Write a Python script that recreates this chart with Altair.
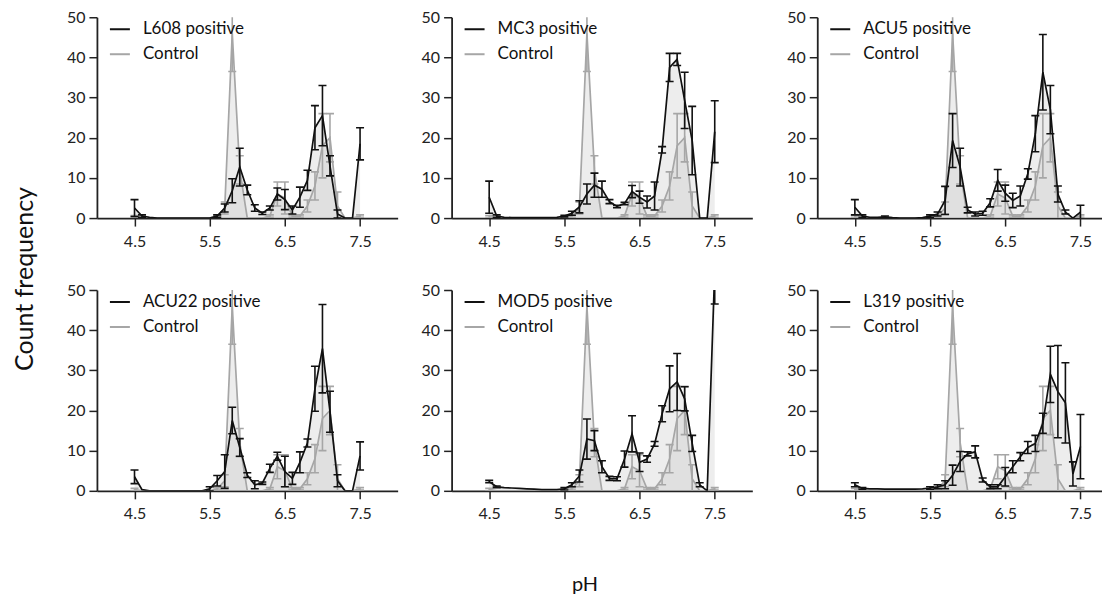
import altair as alt
import pandas as pd

# ---------------- data ----------------
ph = [4.5, 4.6, 4.7, 4.8, 4.9, 5.0, 5.1, 5.2, 5.3, 5.4, 5.5, 5.6, 5.7, 5.8, 5.9, 6.0,
      6.1, 6.2, 6.3, 6.4, 6.5, 6.6, 6.7, 6.8, 6.9, 7.0, 7.1, 7.2, 7.3, 7.4, 7.5]

control_mean = [0.3, 0, 0, 0, 0, 0, 0, 0, 0, 0, 0, 0.5, 2.5, 46, 12, 0, 0, 0, 0.5, 6,
                5, 0.5, 0.5, 3, 8, 18, 20, 3, 0, 0, 0.5]
control_err = [0.3, 0, 0, 0, 0, 0, 0, 0, 0, 0, 0, 0.3, 1.5, 9.5, 3.5, 0, 0, 0, 0.3, 3,
               4, 0.3, 0.3, 1.5, 3.5, 8, 6, 3.5, 0, 0, 0.3]

panel_names = ["L608 positive", "MC3 positive", "ACU5 positive",
               "ACU22 positive", "MOD5 positive", "L319 positive"]

l608_mean = [2.5, 0.5, 0.2, 0, 0, 0, 0, 0, 0, 0, 0, 0.5, 2.5, 6.8, 12.7, 7, 2.5, 1.2, 2.5, 6,
             4.6, 2, 5.2, 9.4, 22.5, 25.5, 13, 1, 0, 0, 18.5]
l608_err = [2.1, 0.3, 0, 0, 0, 0, 0, 0, 0, 0, 0, 0.3, 1, 3, 4.7, 1.2, 0.8, 0.3, 0.5, 1.5,
            2.5, 1, 2.5, 2.5, 5.5, 7.5, 2.5, 1, 0, 0, 4]

mc3_mean = [5.2, 0.5, 0.2, 0.1, 0.1, 0.1, 0.1, 0.1, 0.1, 0.2, 0.5, 1.2, 2.8, 6, 8.2, 7.2,
            4.1, 2.9, 3.6, 6.6, 5.2, 4, 5.5, 17, 37.5, 39.5, 29.3, 19.3, 0, 0, 21.5]
mc3_err = [4, 0.3, 0, 0, 0, 0, 0, 0, 0, 0, 0.2, 0.5, 1.5, 2.5, 3, 2, 0.5, 0.3, 0.3, 1.5,
           1.5, 1.5, 3.5, 0.8, 3.5, 1.5, 7, 8.5, 0, 0, 7.7]

acu5_mean = [2.7, 0.5, 0.2, 0.2, 0.3, 0.1, 0, 0, 0, 0.1, 0.5, 1, 4.4, 19.3, 12.7, 2, 1, 1.2,
             3.8, 9.4, 6.2, 4.4, 5.5, 11, 21, 36.3, 27, 6, 1.5, 0, 1.5]
acu5_err = [1.9, 0.3, 0, 0, 0.2, 0, 0, 0, 0, 0, 0.3, 0.5, 3.5, 6.7, 4.7, 0.7, 0.5, 0.5, 1,
            2.7, 2, 1.8, 2.5, 1.3, 4.5, 9.4, 6, 2, 0.5, 0, 1.7]

acu22_mean = [3.5, 0.3, 0, 0, 0, 0, 0, 0, 0, 0, 0.5, 2.5, 4.8, 17.5, 10.8, 3.9, 1.5, 1.9,
              5.6, 8.6, 4.8, 3.1, 7.1, 11.9, 25.4, 35.4, 19.7, 2.5, 0, 0, 8.7]
acu22_err = [1.7, 0, 0, 0, 0, 0, 0, 0, 0, 0, 0.5, 1.3, 4.2, 3.3, 2.2, 0.6, 1, 0.3, 1, 1,
             3.8, 1.5, 2.6, 1, 5.6, 11, 5.1, 1.5, 0, 0, 3.5]

mod5_mean = [2.3, 1, 0.8, 0.7, 0.6, 0.5, 0.4, 0.3, 0.3, 0.3, 0.5, 1.5, 3.7, 12.9, 12.5, 6,
             3.1, 3, 7.9, 14.2, 7.1, 7.9, 11.7, 19.2, 25.4, 27.1, 22.9, 11.8, 1.5, 0, 55]
mod5_err = [0.3, 0.2, 0, 0, 0, 0, 0, 0, 0, 0, 0.3, 0.5, 1.5, 5, 2.5, 1.5, 0.5, 0.5, 2, 4.5,
            2.3, 0.8, 0.6, 2, 5.7, 7.1, 3, 2, 0.5, 0, 8.5]

l319_mean = [1.5, 0.6, 0.5, 0.5, 0.4, 0.4, 0.4, 0.4, 0.4, 0.5, 0.7, 1, 1.5, 3.9, 7.3, 9.2,
             9.7, 2.7, 1, 1, 3.5, 6, 8.5, 10.8, 11.8, 16.8, 29, 24.7, 21.9, 4.2, 11]
l319_err = [0.5, 0.2, 0, 0, 0, 0, 0, 0, 0, 0, 0.3, 0.5, 1, 2.5, 2.5, 0.5, 1.5, 0.5, 0.5, 0.5,
            2.3, 1.5, 1, 1.5, 2, 2.5, 7, 11.5, 10, 3, 8]

positive_means = [l608_mean, mc3_mean, acu5_mean, acu22_mean, mod5_mean, l319_mean]
positive_errs = [l608_err, mc3_err, acu5_err, acu22_err, mod5_err, l319_err]

BLACK = "#111111"
GREY = "#a6a6a6"
FONT = "Lato"

rows = []
for name, pm, pe in zip(panel_names, positive_means, positive_errs):
    for i, x in enumerate(ph):
        rows.append(dict(panel=name, series=name, kind="pos", ph=x, mean=pm[i],
                         lo=pm[i] - pe[i], hi=pm[i] + pe[i], err=pe[i]))
        rows.append(dict(panel=name, series="Control", kind="ctrl", ph=x,
                         mean=control_mean[i], lo=control_mean[i] - control_err[i],
                         hi=control_mean[i] + control_err[i], err=control_err[i]))
df = pd.DataFrame(rows)


def panel(name, width, xmax, xtitle=False):
    d = df[df.panel == name]
    xs = alt.Scale(domain=[4.0, xmax], nice=False, zero=False)
    ys = alt.Scale(domain=[0, 50], nice=False, zero=False)
    xax = dict(values=[4.5, 5.5, 6.5, 7.5], format=".1f", labelPadding=7, grid=False)
    if xtitle:
        xax.update(title="pH", titleX=133, titleY=100, titleBaseline="alphabetic",
                   titleFontSize=20, titleFont=FONT, titleFontWeight="normal",
                   titleColor=BLACK)
    else:
        xax.update(title=None)
    x = alt.X("ph:Q", scale=xs, axis=alt.Axis(**xax))
    y = alt.Y("mean:Q", scale=ys, stack=None,
              axis=alt.Axis(values=[0, 10, 20, 30, 40, 50], title=None, labelPadding=4, grid=False))
    cscale = alt.Scale(domain=[name, "Control"], range=[BLACK, GREY])
    legend = alt.Legend(
        orient="none", legendX=12, legendY=1, title=None, symbolType="stroke",
        symbolSize=400, symbolStrokeWidth=2, labelFontSize=17, labelFont=FONT,
        labelColor=BLACK, labelOffset=12, rowPadding=6, padding=0)
    col = alt.Color("series:N", scale=cscale, legend=legend)

    base = alt.Chart(d)
    layers = []
    for kind in ["ctrl", "pos"]:
        b = base.transform_filter(alt.datum.kind == kind)
        layers.append(b.mark_area(clip=True, color="#c4c4c4", opacity=0.3).encode(x=x, y=y))
    for kind in ["ctrl", "pos"]:
        b = base.transform_filter(alt.datum.kind == kind)
        layers.append(b.mark_line(clip=True, strokeWidth=1.7).encode(x=x, y=y, color=col))
        e = b.transform_filter(alt.datum.err > 0)
        layers.append(e.mark_rule(clip=True, strokeWidth=1.6).encode(
            x=alt.X("ph:Q", scale=xs), y=alt.Y("lo:Q", scale=ys), y2="hi:Q", color=col))
        for end in ["lo", "hi"]:
            layers.append(e.mark_rule(clip=True, strokeWidth=1.6, xOffset=-4, x2Offset=4).encode(
                x=alt.X("ph:Q", scale=xs), x2="ph:Q", y=alt.Y(f"{end}:Q", scale=ys), color=col))
    return alt.layer(*layers).properties(width=width, height=201)


def row(names, middle_title=False):
    p1 = panel(names[0], 301, 8.0)
    p2 = panel(names[1], 301, 8.0, xtitle=middle_title)
    p3 = panel(names[2], 284.5, 7.78)
    inner = alt.hconcat(p1, p2, spacing=23).resolve_scale(color="independent")
    return alt.hconcat(inner, p3, spacing=34).resolve_scale(color="independent")


grid = alt.vconcat(row(panel_names[:3]), row(panel_names[3:], middle_title=True),
                   spacing=33).resolve_scale(color="independent")

ylab = alt.Chart(pd.DataFrame({"t": ["Count frequency"]})).mark_text(
    angle=270, font=FONT, fontSize=25, color=BLACK, align="center", baseline="middle"
).encode(text="t:N", x=alt.value(17), y=alt.value(262)).properties(width=30, height=480)

chart = alt.hconcat(ylab, grid, spacing=28).resolve_scale(color="independent").properties(
    padding={"left": 0, "top": 1, "right": 0, "bottom": 0}
).configure_view(stroke=None).configure_axis(
    domainColor="#222222", domainWidth=1.8, tickColor="#222222", tickWidth=1.5, tickSize=8,
    labelFont=FONT, labelFontSize=16, labelColor="#222222"
)

chart.save("out.html", embed_options={"renderer": "svg", "actions": False})
